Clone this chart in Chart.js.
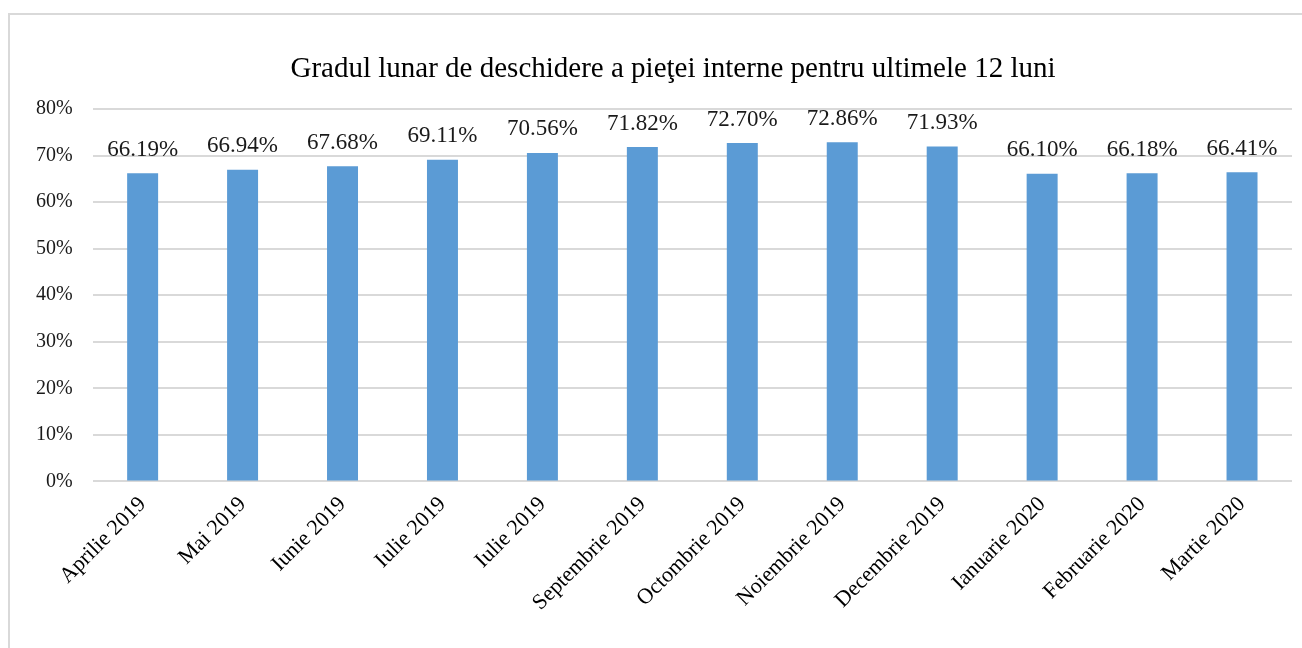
<!DOCTYPE html>
<html>
<head>
<meta charset="utf-8">
<script src="https://cdn.jsdelivr.net/npm/chart.js@4/dist/chart.umd.min.js"></script>
<style>
  body { margin: 0; background: #fff; overflow: hidden; }
  #frame { position: absolute; left: 8px; top: 13px; width: 1310px; height: 650px; border: 2px solid #d9d9d9; }
  #chart { position: absolute; left: 0; top: 0; }
</style>
</head>
<body>
<div id="frame"><canvas id="chart" width="1292" height="633"></canvas></div>
<script>
const months = ['Aprilie 2019', 'Mai 2019', 'Iunie 2019', 'Iulie 2019', 'Iulie 2019', 'Septembrie 2019',
  'Octombrie 2019', 'Noiembrie 2019', 'Decembrie 2019', 'Ianuarie 2020', 'Februarie 2020', 'Martie 2020'];
const openness = [66.19, 66.94, 67.68, 69.11, 70.56, 71.82, 72.70, 72.86, 71.93, 66.10, 66.18, 66.41];
const yTicks = [0, 10, 20, 30, 40, 50, 60, 70, 80];
const chartTitle = 'Gradul lunar de deschidere a pieţei interne pentru ultimele 12 luni';

const serif = "'Liberation Serif', 'Times New Roman', serif";

// title sits a little right of the plot centre, like the Excel original
const titleText = {
  id: 'titleText',
  afterDraw(chart) {
    const ctx = chart.ctx;
    ctx.save();
    ctx.font = '29px ' + serif;
    ctx.fillStyle = '#000';
    ctx.textAlign = 'center';
    ctx.textBaseline = 'middle';
    ctx.fillText(chartTitle, 663, 54);
    ctx.restore();
  }
};

// values written above each bar
const valueLabels = {
  id: 'valueLabels',
  afterDatasetsDraw(chart) {
    const ctx = chart.ctx;
    const meta = chart.getDatasetMeta(0);
    ctx.save();
    ctx.font = '23px ' + serif;
    ctx.fillStyle = '#1a1a1a';
    ctx.textAlign = 'center';
    ctx.textBaseline = 'bottom';
    meta.data.forEach((bar, i) => {
      ctx.fillText(openness[i].toFixed(2) + '%', bar.x, bar.y - 12);
    });
    ctx.restore();
  }
};

const chartCanvas = document.querySelector('#chart');

var openChart = new Chart(chartCanvas, {
  type: 'bar',
  data: {
    labels: months,
    datasets: [{
      data: openness,
      backgroundColor: '#5b9bd5',
      barPercentage: 0.62,
      categoryPercentage: 0.5
    }]
  },
  options: {
    responsive: false,
    animation: false,
    layout: { padding: { left: 6, right: 10, top: 94, bottom: 30 } },
    plugins: {
      legend: { display: false },
      tooltip: { enabled: false },
      title: { display: false }
    },
    scales: {
      x: {
        grid: { display: false },
        border: { display: false },
        ticks: {
          color: '#000',
          font: { family: serif, size: 22 },
          minRotation: 45,
          maxRotation: 45,
          padding: 2
        }
      },
      y: {
        min: yTicks[0],
        max: yTicks[yTicks.length - 1],
        afterBuildTicks(axis) { axis.ticks = yTicks.map(v => ({ value: v })); },
        grid: { color: '#d9d9d9', lineWidth: 2, drawTicks: false },
        border: { display: false },
        ticks: {
          color: '#1a1a1a',
          font: { family: serif, size: 20 },
          padding: 20,
          callback: v => v + '%'
        }
      }
    }
  },
  plugins: [valueLabels, titleText]
});
</script>
</body>
</html>
